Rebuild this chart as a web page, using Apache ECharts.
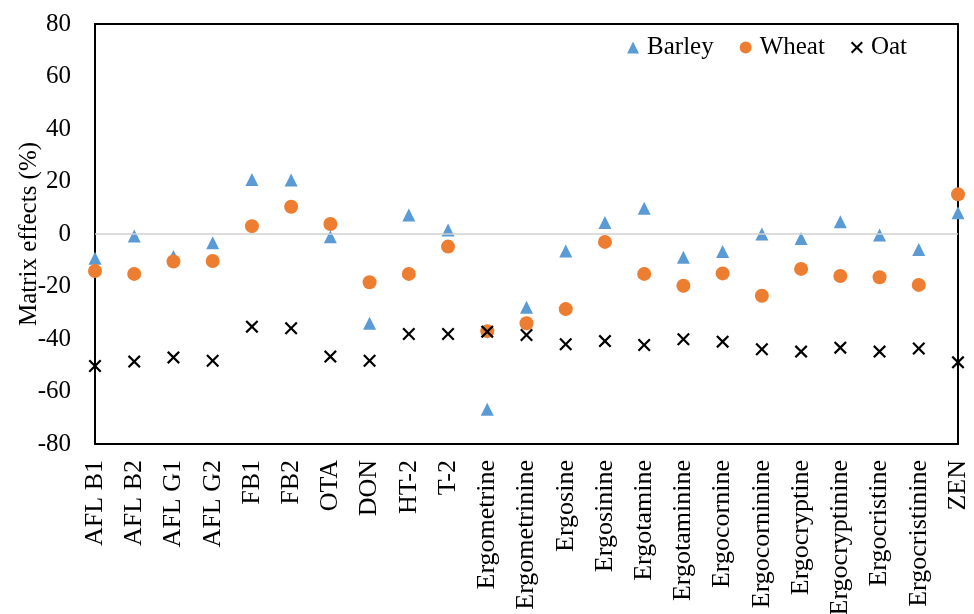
<!DOCTYPE html>
<html>
<head>
<meta charset="utf-8">
<script src="https://cdn.jsdelivr.net/npm/echarts@6/dist/echarts.min.js"></script>
<style>html,body{margin:0;padding:0;background:#fff}#c{width:974px;height:614px}</style>
</head>
<body>
<div id="c"></div>
<script>
const categories = ["AFL B1","AFL B2","AFL G1","AFL G2","FB1","FB2","OTA","DON","HT-2","T-2","Ergometrine","Ergometrinine","Ergosine","Ergosinine","Ergotamine","Ergotaminine","Ergocornine","Ergocorninine","Ergocryptine","Ergocryptinine","Ergocristine","Ergocristinine","ZEN"];
const barley = [-9.2,-0.8,-8.6,-3.3,20.8,20.6,-1.0,-34.0,7.2,1.5,-66.8,-27.9,-6.5,4.4,9.8,-8.9,-6.7,0.0,-1.7,4.7,-0.4,-5.9,8.1];
const wheat = [-14.1,-15.2,-10.5,-10.3,3.0,10.4,3.8,-18.4,-15.2,-4.8,-37.0,-34.0,-28.6,-3.0,-15.2,-19.7,-15.0,-23.5,-13.3,-16.0,-16.5,-19.4,15.1];
const oat = [-50.3,-48.6,-47.0,-48.3,-35.3,-35.9,-46.7,-48.3,-38.1,-38.1,-37.2,-38.5,-42.0,-40.8,-42.3,-40.1,-41.0,-43.9,-44.8,-43.3,-44.8,-43.6,-48.9];
const yTicks = [-80,-60,-40,-20,0,20,40,60,80];

const font = '"Liberation Serif","Times New Roman",serif';
const xPath = 'path://M0,1.2L1.2,0L5,3.8L8.8,0L10,1.2L6.2,5L10,8.8L8.8,10L5,6.2L1.2,10L0,8.8L3.8,5Z';
const chart = echarts.init(document.getElementById('c'), null, {renderer:'canvas'});
chart.setOption({
  animation:false,
  backgroundColor:'#fff',
  grid:{left:95,right:16,top:24,bottom:170,containLabel:false,outerBoundsMode:'none',show:false},
  legend:{
    right:62, top:30, itemGap:26, itemWidth:12, itemHeight:12,
    textStyle:{fontFamily:font,fontSize:25,color:'#000',padding:[0,0,0,3]},
    data:[{name:'Barley',icon:'triangle'},{name:'Wheat',icon:'circle'},{name:'Oat',icon:xPath}]
  },
  xAxis:[{
    type:'category', data:categories, boundaryGap:false,
    axisLine:{onZero:false,lineStyle:{color:'#000',width:2}},
    axisTick:{show:false},
    splitLine:{show:false},
    axisLabel:{rotate:90,interval:0,margin:16,fontFamily:font,fontSize:26,color:'#000'}
  },{
    type:'category', data:categories, boundaryGap:false, position:'top',
    axisLine:{show:true,onZero:false,lineStyle:{color:'#000',width:2}},
    axisTick:{show:false}, axisLabel:{show:false}, splitLine:{show:false}
  }],
  yAxis:[{
    type:'value', min:yTicks[0], max:yTicks[yTicks.length-1], interval:20,
    name:'Matrix effects (%)', nameLocation:'middle', nameGap:53, nameMoveOverlap:false,
    nameTextStyle:{fontFamily:font,fontSize:25,color:'#000'},
    axisLine:{show:true,onZero:false,lineStyle:{color:'#000',width:2}},
    axisTick:{show:false},
    splitLine:{show:false},
    axisLabel:{margin:24,fontFamily:font,fontSize:25,color:'#000'}
  },{
    type:'value', min:yTicks[0], max:yTicks[yTicks.length-1], interval:20, position:'right',
    axisLine:{show:true,onZero:false,lineStyle:{color:'#000',width:2}},
    axisTick:{show:false}, axisLabel:{show:false}, splitLine:{show:false}
  }],
  series:[
    {name:'Barley',type:'scatter',data:barley,symbol:'triangle',symbolSize:13,itemStyle:{color:'#5B9BD5',opacity:1},z:3,
     markLine:{silent:true,symbol:'none',label:{show:false},lineStyle:{color:'#d0d0d0',width:1.5,type:'solid'},data:[{yAxis:0}]}},
    {name:'Wheat',type:'scatter',data:wheat,symbol:'circle',symbolSize:14,itemStyle:{color:'#ED7D31',opacity:1},z:4},
    {name:'Oat',type:'scatter',data:oat,symbol:xPath,symbolSize:13,itemStyle:{color:'#000',opacity:1},z:5}
  ]
});
</script>
</body>
</html>
